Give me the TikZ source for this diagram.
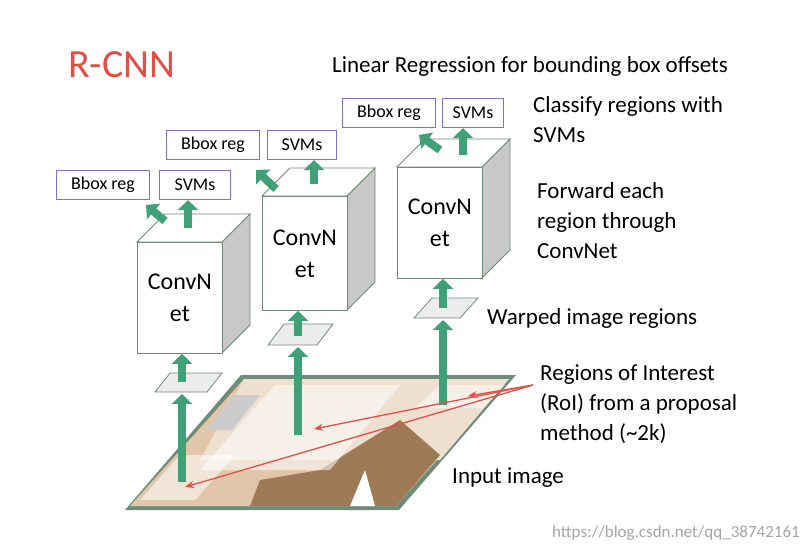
\documentclass[tikz,border=0pt]{standalone}
\usepackage{fontspec}
\setmainfont{Carlito}
\usetikzlibrary{arrows.meta}
\definecolor{arrgreen}{RGB}{64,160,120}
\definecolor{boxpurple}{RGB}{130,110,210}
\definecolor{rcnnred}{RGB}{225,80,70}
\definecolor{facegray}{RGB}{200,200,200}
\definecolor{edgegreen}{RGB}{110,140,120}
\tikzset{
  x=1pt, y=-1pt,
  txt/.style={font=\fontsize{23}{30}\selectfont, anchor=west, align=left, inner sep=0pt},
  lbl/.style={draw=boxpurple, line width=1.2pt, font=\fontsize{18}{20}\selectfont,
              minimum height=29pt, inner sep=2pt},
  up/.style={-{Triangle[width=20pt,length=10pt]}, line width=8pt, arrgreen},
  warp/.style={draw=edgegreen, fill=gray!15, line width=0.8pt},
  roi/.style={fill=white, fill opacity=0.55},
  redarr/.style={-{Stealth[length=9pt,width=7pt]}, rcnnred, line width=1.3pt}
}
% cube: front x1 x2 y1 y2, depth d
\newcommand{\mycube}[6]{%
  \fill[facegray, draw=edgegreen, line width=0.8pt] (#2,#3) -- ++(#5,-#5) -- ++(0,#4-#3) -- (#2,#4) -- cycle;
  \fill[white, draw=edgegreen, line width=0.8pt] (#1,#3) -- ++(#5,-#5) -- ++(#2-#1,0) -- (#2,#3) -- cycle;
  \node[draw=edgegreen, fill=white, line width=0.8pt, minimum width=#2-#1, minimum height=#4-#3,
        anchor=north west, inner sep=0pt, font=\fontsize{24}{32}\selectfont, align=center] (#6) at (#1,#3) {ConvN\\et};
}
\begin{document}
\begin{tikzpicture}
\useasboundingbox (0,0) rectangle (806,551);

% input image
\fill[edgegreen] (125,510) -- (399,510) -- (516,375) -- (241,375) -- cycle;
\fill[brown!45!white] (130,506) -- (396,506) -- (509,379) -- (244,379) -- cycle;
\fill[brown!25!white] (244,379) -- (509,379) -- (440,460) -- (200,460) -- cycle;
\fill[brown!70!black!80] (250,506) -- (396,506) -- (440,455) -- (400,420) -- (320,470) -- (260,480) -- cycle;
\fill[white] (350,506) -- (365,470) -- (375,506) -- cycle;
\fill[gray!40] (205,430) -- (235,395) -- (260,395) -- (232,430) -- cycle;
\fill[roi] (200,470) -- (275,385) -- (400,385) -- (330,470) -- cycle;
\fill[roi] (140,500) -- (180,455) -- (235,455) -- (195,500) -- cycle;
\fill[roi] (415,408) -- (440,385) -- (505,385) -- (482,408) -- cycle;

% warped regions
\draw[warp] (155,392) -- (170,373) -- (222,373) -- (207,392) -- cycle;
\draw[warp] (268,345) -- (284,324) -- (333,324) -- (317,345) -- cycle;
\draw[warp] (414,318) -- (432,298) -- (478,298) -- (460,318) -- cycle;

% cubes
\mycube{137}{222}{242}{353}{28}{c1}
\mycube{262}{347}{196}{310}{28}{c2}
\mycube{397}{482}{167}{278}{28}{c3}

% output boxes
\node[lbl, minimum width=93pt] (b1) at (103,185) {Bbox reg};
\node[lbl, minimum width=71pt] (s1) at (195,185) {SVMs};
\node[lbl, minimum width=93pt] (b2) at (213,145) {Bbox reg};
\node[lbl, minimum width=69pt] (s2) at (302,145) {SVMs};
\node[lbl, minimum width=93pt] (b3) at (389,113) {Bbox reg};
\node[lbl, minimum width=61pt] (s3) at (473,113) {SVMs};

% arrows cube -> outputs
\coordinate (t1) at (188,228); \coordinate (u1) at (165,221);
\coordinate (t2) at (314,184); \coordinate (u2) at (276,189);
\coordinate (t3) at (463,155); \coordinate (u3) at (440,150);
\draw[up] (t1) -- (s1.south -| t1);
\draw[up] (u1) -- (146,205);
\draw[up] (t2) -- (s2.south -| t2);
\draw[up] (u2) -- (256,170);
\draw[up] (t3) -- (s3.south -| t3);
\draw[up] (u3) -- (419,135);

% arrows warped -> cube
\coordinate (w1) at (182,382); \coordinate (w2) at (298,336); \coordinate (w3) at (443,308);
\draw[up] (w1) -- (w1 |- c1.south);
\draw[up] (w2) -- (w2 |- c2.south);
\draw[up] (w3) -- (w3 |- c3.south);

% arrows image -> warped
\coordinate (r1) at (182,482); \coordinate (r2) at (298,435); \coordinate (r3) at (443,405);
\draw[up] (r1) -- (182,394);
\draw[up] (r2) -- (298,347);
\draw[up] (r3) -- (443,320);

% red arrows
\coordinate (rs) at (533,385);
\draw[redarr] (rs) -- (468,396);
\draw[redarr] (rs) -- (314,429);
\draw[redarr] (rs) -- (185,487);

% texts
\node[anchor=west, inner sep=0pt, text=rcnnred, font=\fontsize{40}{40}\selectfont] (title) at (68,65) {R-CNN};
\node[txt] (lin) at (332,66) {Linear Regression for bounding box offsets};
\node[txt, anchor=north west] (cls) at (533,96) {Classify regions with\\SVMs};
\node[txt, anchor=north west] (fwd) at (537,182) {Forward each\\region through\\ConvNet};
\node[txt] (wrp) at (487,318) {Warped image regions};
\node[txt, anchor=north west] (roit) at (540,364) {Regions of Interest\\(RoI) from a proposal\\method (\textasciitilde2k)};
\node[txt] (inp) at (452,478) {Input image};
\node[anchor=east, inner sep=0pt, text=gray!70, font=\fontsize{17}{17}\selectfont] (wm) at (800,533) {https://blog.csdn.net/qq\_38742161};
\end{tikzpicture}
\end{document}
